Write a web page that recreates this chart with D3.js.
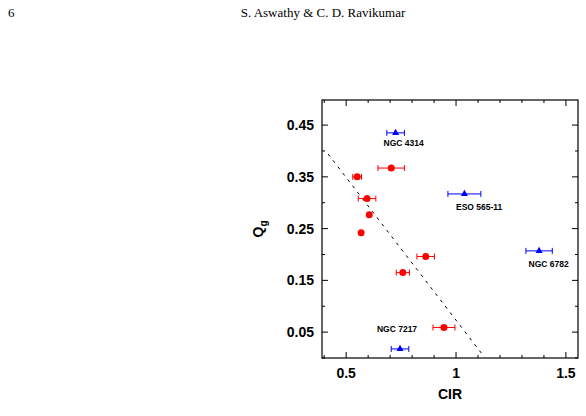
<!DOCTYPE html><html><head><script src="https://cdn.jsdelivr.net/npm/d3@7"></script>
<style>body{margin:0;background:#fff}</style></head><body><svg id="c" width="586" height="416"></svg>
<script>
const redX=[0.705,0.55,0.595,0.605,0.568,0.862,0.758,0.945];
const redY=[0.367,0.35,0.308,0.277,0.242,0.196,0.165,0.059];
const redErr=[0.06,0.02,0.04,0,0,0.04,0.03,0.05];
const blueX=[0.725,1.038,1.378,0.745];
const blueY=[0.435,0.317,0.207,0.0175];
const blueErr=[0.04,0.075,0.06,0.04];
const blueNames=["NGC 4314","ESO 565-11","NGC 6782","NGC 7217"];
const labelPos=[[0.67,0.41],[1.0,0.285],[1.33,0.175],[0.64,0.05]];
const fitX=[0.418,1.115], fitY=[0.394,0.0096];
const xTicks=[0.5,1,1.5], yTicks=[0.05,0.15,0.25,0.35,0.45];
const svg=d3.select("#c");
const L=322,R=578,T=100,B=358;
const x=d3.scaleLinear().domain([0.39,1.555]).range([L,R]);
const y=d3.scaleLinear().domain([0.0,0.4985]).range([B,T]);
svg.append("text").attr("x",8).attr("y",17).attr("font-family","Liberation Serif").attr("font-size",13).text("6");
svg.append("text").attr("x",323).attr("y",17).attr("text-anchor","middle").attr("font-family","Liberation Serif").attr("font-size",13).text("S. Aswathy & C. D. Ravikumar");
const g=svg.append("g");
const minorX=d3.range(0.4,1.56,0.1), minorY=d3.range(0.0,0.5,0.05);
minorX.forEach(v=>{const big=xTicks.some(t=>Math.abs(t-v)<1e-6);const l=big?6:3;
 g.append("line").attr("x1",x(v)).attr("x2",x(v)).attr("y1",B).attr("y2",B-l).attr("stroke","#000");
 g.append("line").attr("x1",x(v)).attr("x2",x(v)).attr("y1",T).attr("y2",T+l).attr("stroke","#000");});
minorY.forEach(v=>{const big=yTicks.some(t=>Math.abs(t-v)<1e-6);const l=big?6:3;
 g.append("line").attr("y1",y(v)).attr("y2",y(v)).attr("x1",L).attr("x2",L+l).attr("stroke","#000");
 g.append("line").attr("y1",y(v)).attr("y2",y(v)).attr("x1",R).attr("x2",R-l).attr("stroke","#000");});
g.append("rect").attr("x",L).attr("y",T).attr("width",R-L).attr("height",B-T).attr("fill","none").attr("stroke","#000").attr("stroke-width",1.2);
const F="Liberation Sans";
xTicks.forEach(v=>g.append("text").attr("x",x(v)).attr("y",B+20).attr("text-anchor","middle").attr("font-family",F).attr("font-weight","bold").attr("font-size",14).text(String(v)));
yTicks.forEach(v=>g.append("text").attr("x",L-8).attr("y",y(v)+5).attr("text-anchor","end").attr("font-family",F).attr("font-weight","bold").attr("font-size",14).text(v.toFixed(2)));
g.append("text").attr("x",(L+R)/2).attr("y",B+41).attr("text-anchor","middle").attr("font-family",F).attr("font-weight","bold").attr("font-size",14).text("CIR");
const yl=g.append("text").attr("transform",`translate(263,${(T+B)/2}) rotate(-90)`).attr("text-anchor","middle").attr("font-family",F).attr("font-weight","bold").attr("font-size",14);
yl.append("tspan").text("Q");yl.append("tspan").attr("font-size",10).attr("dy",4).text("g");
g.append("line").attr("x1",x(fitX[0])).attr("y1",y(fitY[0])).attr("x2",x(fitX[1])).attr("y2",y(fitY[1])).attr("stroke","#000").attr("stroke-dasharray","3,5");
function eb(xs,ys,es,c){xs.forEach((v,i)=>{if(!es[i])return;const a=x(v-es[i]),b=x(v+es[i]),yy=y(ys[i]);
 g.append("line").attr("x1",a).attr("x2",b).attr("y1",yy).attr("y2",yy).attr("stroke",c);
 [a,b].forEach(p=>g.append("line").attr("x1",p).attr("x2",p).attr("y1",yy-3).attr("y2",yy+3).attr("stroke",c));});}
eb(redX,redY,redErr,"#f00");eb(blueX,blueY,blueErr,"#00f");
redX.forEach((v,i)=>g.append("circle").attr("cx",x(v)).attr("cy",y(redY[i])).attr("r",3.5).attr("fill","#f00"));
const tri=d3.symbol().type(d3.symbolTriangle).size(22);
blueX.forEach((v,i)=>g.append("path").attr("d",tri).attr("transform",`translate(${x(v)},${y(blueY[i])})`).attr("fill","#00f"));
blueNames.forEach((n,i)=>g.append("text").attr("x",x(labelPos[i][0])).attr("y",y(labelPos[i][1])).attr("font-family",F).attr("font-weight","bold").attr("font-size",8.5).text(n));
</script></body></html>
